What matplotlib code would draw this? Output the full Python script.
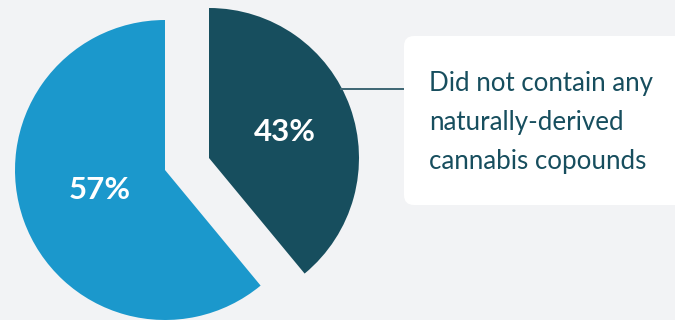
import matplotlib
matplotlib.use("Agg")
import matplotlib.pyplot as plt
from matplotlib.patches import FancyBboxPatch

# data
categories = ["Did not contain any naturally-derived cannabis copounds", "Other"]
slice_sizes = [39, 61]          # drawn proportions
slice_labels = ["43%", "57%"]   # labels printed on the slices
callout_lines = ["Did not contain any", "naturally-derived", "cannabis copounds"]

DARK = "#174E5E"
BLUE = "#1B98CC"
BG = "#F2F3F5"

fig = plt.figure(figsize=(6.75, 3.2), dpi=100, facecolor=BG)
ax = fig.add_axes([0, 0, 1, 1])
ax.set_facecolor(BG)

wedges, _ = ax.pie(slice_sizes, colors=[DARK, BLUE], startangle=90,
                   counterclock=False, radius=150, center=(165, 150),
                   wedgeprops=dict(linewidth=0), frame=True)
ax.set_xlim(0, 675)
ax.set_ylim(0, 320)
ax.set_aspect("equal")
ax.axis("off")
# exploded dark slice
wedges[0].set_center((209, 162))

ax.text(285, 320 - 132, slice_labels[0], color="white", fontsize=22.5,
        family="Lato", weight="bold", ha="center", va="center")
ax.text(100, 320 - 190, slice_labels[1], color="white", fontsize=22.5,
        family="Lato", weight="bold", ha="center", va="center")

# callout box
box = FancyBboxPatch((404, 320 - 205), 290, 169,
                     boxstyle="round,pad=0,rounding_size=10",
                     facecolor="white", edgecolor="none", zorder=3)
ax.add_patch(box)
ax.plot([340, 404], [320 - 89, 320 - 89], color="#3E6673", lw=1.4, zorder=2,
        solid_capstyle="butt")

for i, line in enumerate(callout_lines):
    ax.text(429, 320 - (83 + 39.5 * i), line, color=DARK, fontsize=18.6,
            family="Lato", ha="left", va="center", zorder=4)

fig.savefig("out.png", dpi=100, facecolor=BG)
